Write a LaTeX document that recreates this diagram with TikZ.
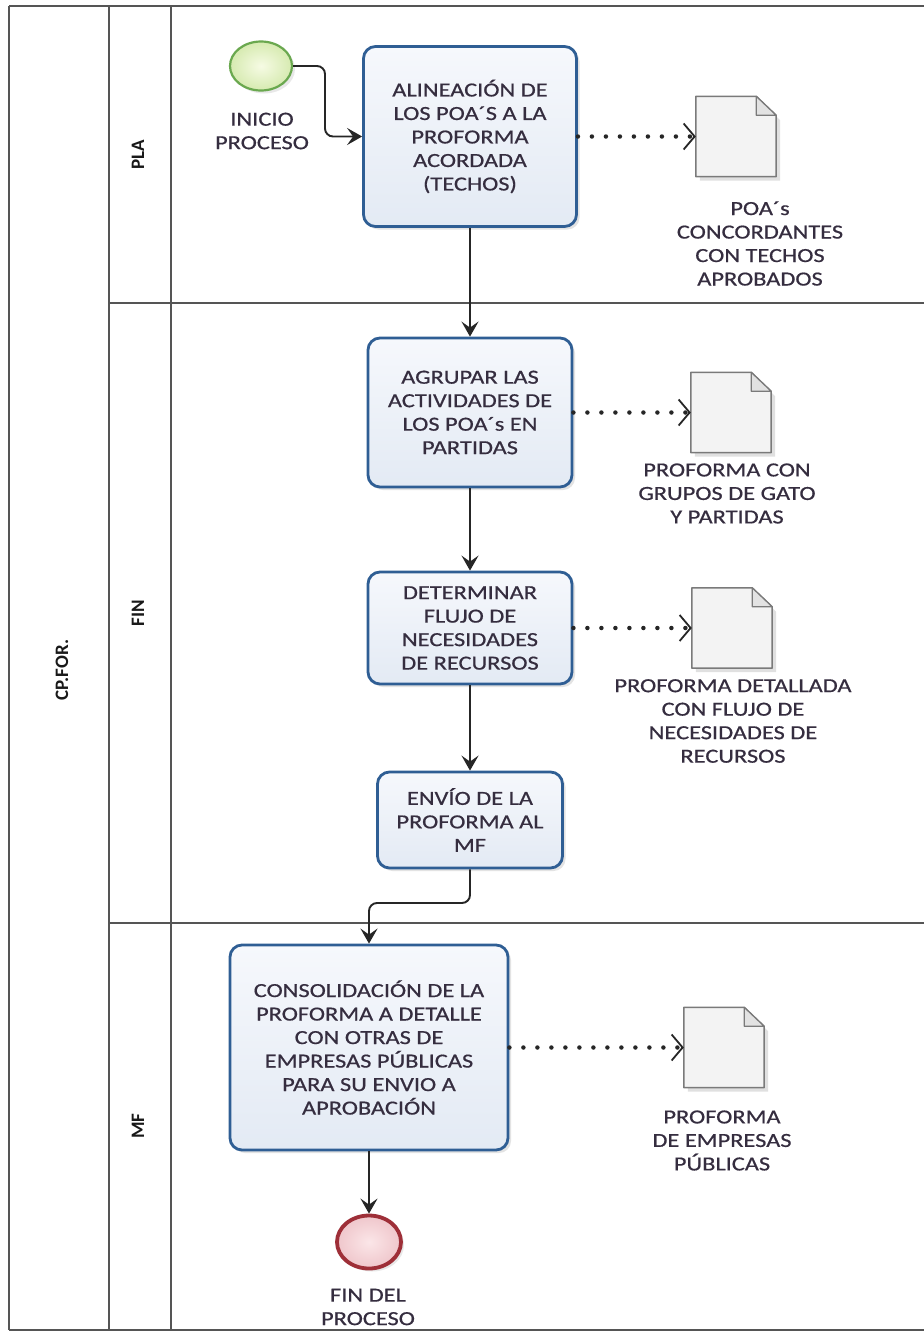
\documentclass[tikz,border=0pt]{standalone}
\usepackage{fontspec}
\setmainfont{Carlito}[FakeStretch=1.22,FakeBold=0.6]
\newfontfamily\lanefont{Carlito}[FakeStretch=1.0]
\usetikzlibrary{arrows.meta,shadows,shapes.geometric,calc}
\definecolor{txt}{HTML}{352D3F}
\definecolor{boxblue}{HTML}{2F5E94}
\definecolor{boxtop}{HTML}{F6F8FC}
\definecolor{boxbot}{HTML}{E3EAF4}
\definecolor{laneline}{HTML}{555555}
\definecolor{docline}{HTML}{7A7A7A}
\definecolor{docfill}{HTML}{F3F3F3}
\definecolor{foldfill}{HTML}{E2E2E2}
\definecolor{startline}{HTML}{6AA84F}
\definecolor{startin}{HTML}{F6FBE4}
\definecolor{startout}{HTML}{D6EAB0}
\definecolor{endline}{HTML}{9E2F38}
\definecolor{endin}{HTML}{FBE6E8}
\definecolor{endout}{HTML}{EFC6CB}
\newcommand\drawdoc[1]{%
  \fill[black, opacity=.12] ([shift={(4pt,-4pt)}]#1.south west) -- ([shift={(4pt,-4pt)}]#1.north west)
     -- ([shift={(-16pt,-4pt)}]#1.north east) -- ([shift={(4pt,-24pt)}]#1.north east)
     -- ([shift={(4pt,-4pt)}]#1.south east) -- cycle;
  \draw[docline, line width=1.5pt, fill=docfill, line join=round]
     (#1.south west) -- (#1.north west) -- ([xshift=-20pt]#1.north east)
     -- ([yshift=-19pt]#1.north east) -- (#1.south east) -- cycle;
  \draw[docline, line width=1.2pt, fill=foldfill, line join=round]
     ([xshift=-20pt]#1.north east) -- ([xshift=-20pt,yshift=-19pt]#1.north east)
     -- ([yshift=-19pt]#1.north east) -- cycle;
}
\begin{document}
\begin{tikzpicture}[x=1pt,y=-1pt,
  font=\fontsize{20}{23.5}\selectfont,
  task/.style={draw=boxblue, line width=2.8pt, rounded corners=12pt,
    top color=boxtop, bottom color=boxbot, align=center, text=txt, inner sep=0pt,
    drop shadow={shadow xshift=3pt, shadow yshift=-3pt, opacity=.22}},
  docnode/.style={rectangle, minimum width=80pt, minimum height=80pt, inner sep=0pt},
  doclabel/.style={align=center, text=txt, inner sep=0pt},
  lanelab/.style={rotate=90, font=\lanefont\fontsize{19}{22}\selectfont\bfseries, text=black!90, inner sep=0pt},
  flow/.style={draw=black!85, line width=1.9pt, -{Stealth[length=15pt,width=17pt,inset=6pt]}},
  dotflow/.style={draw=black!85, line width=4.5pt, line cap=round, dash pattern=on 0pt off 14pt,
    -{Straight Barb[length=11pt,width=26pt,line width=1.8pt 0]}},
]
\fill[white] (0,0) rectangle (924,1334);
\useasboundingbox (0,0) rectangle (924,1334);

% pool and lanes
\draw[laneline, line width=1.6pt] (9,6) -- (924,6);
\draw[laneline, line width=1.6pt] (9,1330) -- (924,1330);
\draw[laneline, line width=1.6pt] (9,6) -- (9,1330);
\draw[laneline, line width=1.4pt] (109,6) -- (109,1330);
\draw[laneline, line width=1.4pt] (171,6) -- (171,1330);
\draw[laneline, line width=1.4pt] (109,303) -- (924,303);
\draw[laneline, line width=1.4pt] (109,923) -- (924,923);

\node[lanelab] (pool) at (62,670) {CP.FOR.};
\node[lanelab] (lpla) at (138,155) {PLA};
\node[lanelab] (lfin) at (138,613) {FIN};
\node[lanelab] (lmf) at (138,1126) {MF};

% events
\node[ellipse, minimum width=62pt, minimum height=49pt, draw=startline, line width=2.2pt,
  inner color=startin, outer color=startout,
  drop shadow={shadow xshift=3pt, shadow yshift=-3pt, opacity=.18}] (start) at (261,66) {};
\node[doclabel] (startlab) at (262,131) {INICIO\\PROCESO};

\node[ellipse, minimum width=64pt, minimum height=53pt, draw=endline, line width=3.8pt,
  inner color=endin, outer color=endout,
  drop shadow={shadow xshift=3pt, shadow yshift=-3pt, opacity=.18}] (end) at (369,1242) {};
\node[doclabel] (endlab) at (368,1307) {FIN DEL\\PROCESO};

% tasks
\node[task, minimum width=213pt, minimum height=180pt] (b1) at (470,136.5)
  {ALINEACIÓN DE\\LOS POA´S A LA\\PROFORMA\\ACORDADA\\(TECHOS)};
\node[task, minimum width=204pt, minimum height=149pt] (b2) at (470,412.5)
  {AGRUPAR LAS\\ACTIVIDADES DE\\LOS POA´s EN\\PARTIDAS};
\node[task, minimum width=204pt, minimum height=112pt] (b3) at (470,628)
  {DETERMINAR\\FLUJO DE\\NECESIDADES\\DE RECURSOS};
\node[task, minimum width=185pt, minimum height=96pt] (b4) at (470,820)
  {ENVÍO DE LA\\PROFORMA AL\\MF};
\node[task, minimum width=278pt, minimum height=205pt] (b5) at (369,1047.5)
  {CONSOLIDACIÓN DE LA\\PROFORMA A DETALLE\\CON OTRAS DE\\EMPRESAS PÚBLICAS\\PARA SU ENVIO A\\APROBACIÓN};

% data objects
\node[docnode] (d1) at (736,136.5) {};
\node[docnode] (d2) at (731,412.5) {};
\node[docnode] (d3) at (732,628) {};
\node[docnode] (d5) at (724,1047.5) {};
\drawdoc{d1}
\drawdoc{d2}
\drawdoc{d3}
\drawdoc{d5}
\node[doclabel] (d1lab) at (760,243.5) {POA´s\\CONCORDANTES\\CON TECHOS\\APROBADOS};
\node[doclabel] (d2lab) at (727,493.5) {PROFORMA CON\\GRUPOS DE GATO\\Y PARTIDAS};
\node[doclabel] (d3lab) at (733,721) {PROFORMA DETALLADA\\CON FLUJO DE\\NECESIDADES DE\\RECURSOS};
\node[doclabel] (d5lab) at (722,1140.5) {PROFORMA\\DE EMPRESAS\\PÚBLICAS};

% sequence flows
\coordinate (k1) at (325,66);
\draw[flow, rounded corners=8pt] (start.east) -- (k1) |- (b1.west);
\draw[flow] (b1.south) -- (b2.north);
\draw[flow] (b2.south) -- (b3.north);
\draw[flow] (b3.south) -- (b4.north);
\coordinate (m45) at (470,903);
\draw[flow, rounded corners=8pt] (b4.south) -- (m45) -| (b5.north);
\draw[flow] (b5.south) -- (end.north);

% associations
\draw[dotflow] (b1.east) -- (d1.west);
\draw[dotflow] (b2.east) -- (d2.west);
\draw[dotflow] (b3.east) -- (d3.west);
\draw[dotflow] (b5.east) -- (d5.west);
\end{tikzpicture}
\end{document}
